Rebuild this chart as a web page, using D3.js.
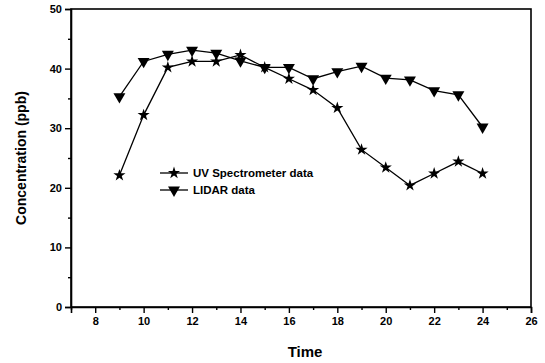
<!DOCTYPE html>
<html>
<head>
<meta charset="utf-8">
<script src="https://cdn.jsdelivr.net/npm/d3@7"></script>
<style>
  html, body { margin: 0; padding: 0; background: #fff; }
  svg { display: block; font-family: Arial, "Liberation Sans", sans-serif; }
</style>
</head>
<body>
<div id="chart"></div>
<script>
// data
const hours = [9, 10, 11, 12, 13, 14, 15, 16, 17, 18, 19, 20, 21, 22, 23, 24];
const uvValues = [22.1, 32.2, 40.2, 41.2, 41.2, 42.3, 40.2, 38.3, 36.4, 33.4, 26.4, 23.4, 20.4, 22.4, 24.4, 22.4];
const lidarValues = [35.3, 41.2, 42.4, 43.1, 42.6, 41.3, 40.2, 40.2, 38.3, 39.5, 40.4, 38.4, 38.1, 36.3, 35.6, 30.2];
const seriesNames = ['UV Spectrometer data', 'LIDAR data'];
const xTicks = [8, 10, 12, 14, 16, 18, 20, 22, 24, 26];
const yTicks = [0, 10, 20, 30, 40, 50];

const W = 545, H = 363;
const m = { left: 71, right: 14, top: 9, bottom: 56 };

const svg = d3.select('#chart').append('svg')
  .attr('width', W).attr('height', H);

const x = d3.scaleLinear().domain([7, 26]).range([m.left, W - m.right]);
const y = d3.scaleLinear().domain([0, 50]).range([H - m.bottom, m.top]);

// frame (top + right)
svg.append('rect')
  .attr('x', x(7)).attr('y', y(50))
  .attr('width', x(26) - x(7)).attr('height', y(0) - y(50))
  .attr('fill', 'none').attr('stroke', '#000').attr('stroke-width', 1.6);

// minor ticks
const minorX = d3.range(7, 26, 2);
const minorY = d3.range(5, 50, 10);

svg.append('g')
  .attr('transform', `translate(0,${y(0)})`)
  .call(d3.axisBottom(x).tickValues(xTicks).tickFormat(d3.format('d')).tickSize(6).tickPadding(4));
svg.append('g')
  .attr('transform', `translate(0,${y(0)})`)
  .call(d3.axisBottom(x).tickValues(minorX).tickFormat('').tickSize(3))
  .call(g => g.select('.domain').remove());

svg.append('g')
  .attr('transform', `translate(${x(7)},0)`)
  .call(d3.axisLeft(y).tickValues(yTicks).tickFormat(d3.format('d')).tickSize(6).tickPadding(3));
svg.append('g')
  .attr('transform', `translate(${x(7)},0)`)
  .call(d3.axisLeft(y).tickValues(minorY).tickFormat('').tickSize(3))
  .call(g => g.select('.domain').remove());

svg.selectAll('.domain').attr('stroke', '#000').attr('stroke-width', 1.6);
svg.selectAll('.tick line').attr('stroke', '#000').attr('stroke-width', 1.4);
svg.selectAll('.tick text')
  .attr('fill', '#000')
  .style('font-size', '11px')
  .style('font-weight', 'bold');

// axis titles
svg.append('text')
  .attr('x', (x(7) + x(26)) / 2 + 4).attr('y', 357)
  .attr('text-anchor', 'middle')
  .style('font-size', '15px').style('font-weight', 'bold')
  .text('Time');

svg.append('text')
  .attr('transform', `translate(26,${(y(0) + y(50)) / 2}) rotate(-90)`)
  .attr('text-anchor', 'middle')
  .style('font-size', '14px').style('font-weight', 'bold')
  .text('Concentration (ppb)');

// series
const line = d3.line().x(d => x(d[0])).y(d => y(d[1]));
const uvPts = hours.map((h, i) => [h, uvValues[i]]);
const lidarPts = hours.map((h, i) => [h, lidarValues[i]]);

const star = d3.symbol().type(d3.symbolStar).size(46);
const tri = d3.symbol().type(d3.symbolTriangle).size(62);

[[uvPts, star, ''], [lidarPts, tri, ' rotate(180)']].forEach(([pts, sym, rot]) => {
  svg.append('path')
    .attr('d', line(pts))
    .attr('fill', 'none').attr('stroke', '#000').attr('stroke-width', 1.3);
  svg.selectAll(null).data(pts).enter().append('path')
    .attr('d', sym())
    .attr('transform', d => `translate(${x(d[0])},${y(d[1])})${rot}`)
    .attr('fill', '#000');
});

// legend
const legend = svg.append('g');
seriesNames.forEach((name, i) => {
  const ly = 173 + i * 17;
  legend.append('line')
    .attr('x1', 160).attr('x2', 188).attr('y1', ly).attr('y2', ly)
    .attr('stroke', '#000').attr('stroke-width', 1.3);
  legend.append('path')
    .attr('d', (i === 0 ? star : tri)())
    .attr('transform', `translate(174,${ly})${i === 0 ? '' : ' rotate(180)'}`)
    .attr('fill', '#000');
  legend.append('text')
    .attr('x', 193).attr('y', ly + 4)
    .style('font-size', '11.5px').style('font-weight', 'bold')
    .text(name);
});
</script>
</body>
</html>
